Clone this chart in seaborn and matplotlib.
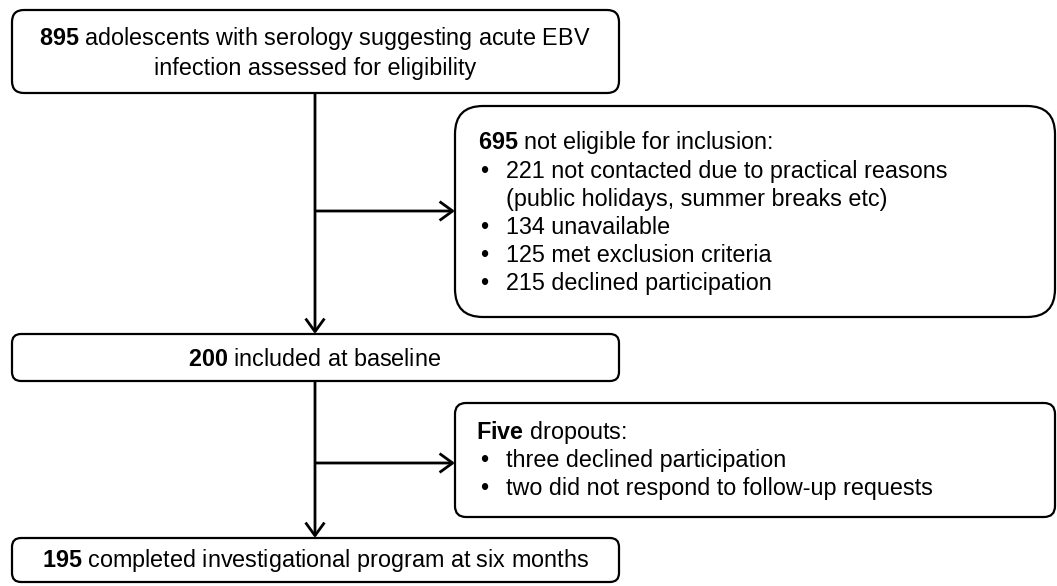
# flow chart of EBV adolescent cohort recruitment
# boxes drawn in pixel coordinates on a bare axis

import matplotlib
matplotlib.use("AGG")
import matplotlib.pyplot as plt
import seaborn as sns
from matplotlib.patches import FancyBboxPatch, FancyArrowPatch

# counts and texts of the flow
screened_n = '895'
screened_txt = ['adolescents with serology suggesting acute EBV',
                'infection assessed for eligibility']
excluded_n = '695'
excluded_head = 'not eligible for inclusion:'
excluded_items = ['221 not contacted due to practical reasons\n(public holidays, summer breaks etc)',
                  '134 unavailable',
                  '125 met exclusion criteria',
                  '215 declined participation']
baseline_n = '200'
baseline_txt = 'included at baseline'
dropout_n = 'Five'
dropout_head = 'dropouts:'
dropout_items = ['three declined participation',
                 'two did not respond to follow-up requests']
final_n = '195'
final_txt = 'completed investigational program at six months'

sns.set_theme(style='white', rc={'text.color': 'black'})
plt.rcParams['font.family'] = ['Liberation Sans', 'DejaVu Sans']
plt.rcParams['mathtext.fontset'] = 'custom'
plt.rcParams['mathtext.rm'] = 'Liberation Sans'
plt.rcParams['mathtext.bf'] = 'Liberation Sans:bold'

W, H = 1057, 586
fig = plt.figure(figsize=(W/100, H/100), dpi=100)
ax = fig.add_axes([0, 0, 1, 1])
ax.set_xlim(0, W)
ax.set_ylim(H, 0)
ax.axis('off')

fs = 16.8
lw = 1.6
off = 7.5  # centre of glyphs -> baseline

def box(x0, y0, x1, y1, r):
    p = FancyBboxPatch((x0, y0), x1-x0, y1-y0,
                       boxstyle='round,pad=0,rounding_size=%d' % r,
                       fc='white', ec='black', lw=lw, zorder=2)
    ax.add_patch(p)

def arrow(x0, y0, x1, y1):
    a = FancyArrowPatch((x0, y0), (x1, y1),
                        arrowstyle='->,head_length=0.47,head_width=0.34',
                        mutation_scale=20, lw=2.0, color='black',
                        shrinkA=0, shrinkB=0, capstyle='butt', zorder=3)
    ax.add_patch(a)

def bold(n):
    return r'$\bf{%s}$' % n

stem_x = 315

# boxes
box(12, 10, 619, 93, 12)
box(455, 106, 1055, 317, 28)
box(12, 334, 619, 381, 9)
box(455, 403, 1055, 517, 11)
box(12, 538, 619, 582, 9)

# connectors
arrow(stem_x, 93, stem_x, 334)
arrow(stem_x, 211, 455, 211)
arrow(stem_x, 381, stem_x, 538)
arrow(stem_x, 463, 455, 463)

# box 1
ax.text(stem_x, 38+off, bold(screened_n) + ' ' + screened_txt[0],
        ha='center', va='baseline', fontsize=fs, color='black', zorder=4)
ax.text(stem_x, 68+off, screened_txt[1],
        ha='center', va='baseline', fontsize=fs, color='black', zorder=4)

# box 2
row = 28.2
y = 142
ax.text(478, y+off, bold(excluded_n) + ' ' + excluded_head,
        ha='left', va='baseline', fontsize=fs, color='black', zorder=4)
for item in excluded_items:
    for k, line in enumerate(item.split('\n')):
        y += row
        if k == 0:
            ax.text(480, y+off, '\u2022', ha='left', va='baseline', fontsize=fs, color='black', zorder=4)
        ax.text(506, y+off, line, ha='left', va='baseline', fontsize=fs, color='black', zorder=4)

# box 3
ax.text(stem_x, 358+off, bold(baseline_n) + ' ' + baseline_txt,
        ha='center', va='baseline', fontsize=fs, color='black', zorder=4)

# box 4
y = 431
ax.text(476, y+off, bold(dropout_n) + ' ' + dropout_head,
        ha='left', va='baseline', fontsize=fs, color='black', zorder=4)
for item in dropout_items:
    y += row
    ax.text(480, y+off, '\u2022', ha='left', va='baseline', fontsize=fs, color='black', zorder=4)
    ax.text(506, y+off, item, ha='left', va='baseline', fontsize=fs, color='black', zorder=4)

# box 5
ax.text(stem_x, 560+off, bold(final_n) + ' ' + final_txt,
        ha='center', va='baseline', fontsize=fs, color='black', zorder=4)

plt.savefig('out.png', format='png', dpi=100)
